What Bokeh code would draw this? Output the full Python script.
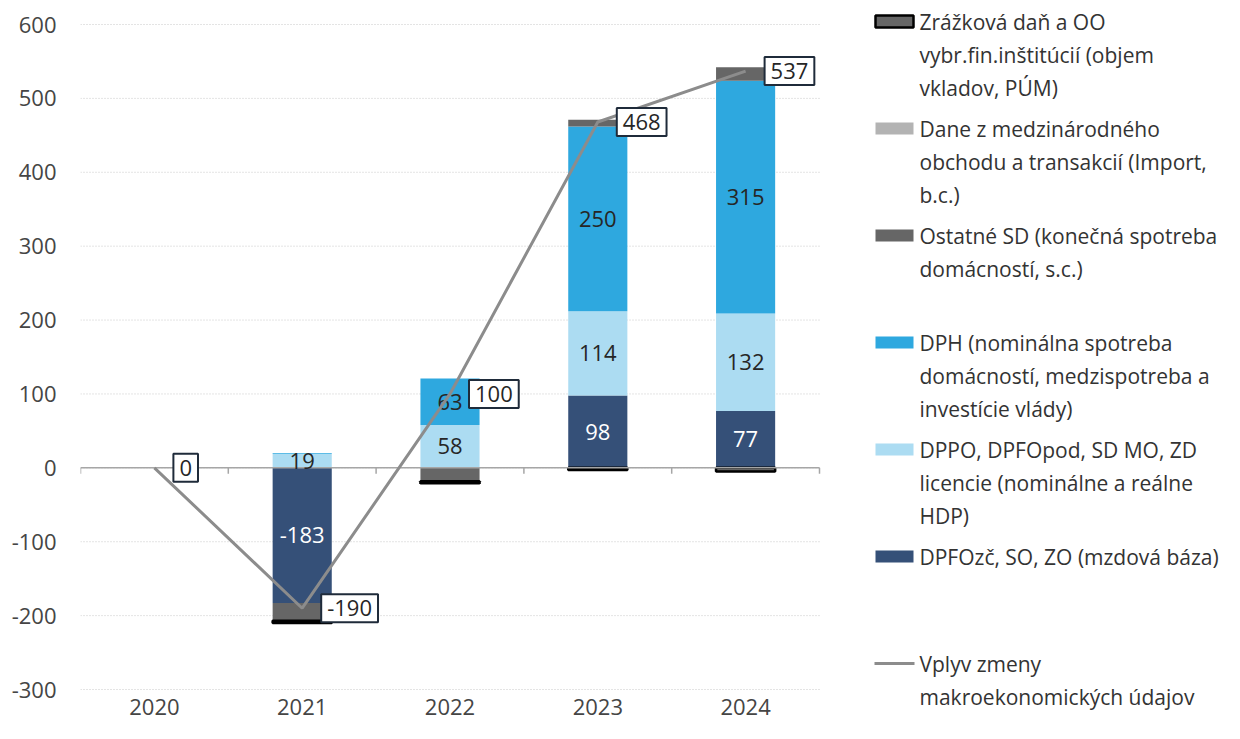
from bokeh.plotting import figure
from bokeh.models import Range1d, FixedTicker
from bokeh.core.properties import value
from bokeh.embed import file_html
from bokeh.resources import INLINE

# ---------------- data ----------------
years = ["2020", "2021", "2022", "2023", "2024"]
dpfo_zc = [0, -183, 0, 98, 77]          # DPFOzč, SO, ZO (mzdová báza)
dppo = [0, 19, 58, 114, 132]            # DPPO, DPFOpod, SD MO, ZD licencie
dph = [0, 1, 63, 250, 315]              # DPH
ostatne_sd = [0, -24, -18, 9, 18]       # Ostatné SD
dane_medz = [0, 0, 0, 0, 0]             # Dane z medzinárodného obchodu
zrazkova = [0, -3, -3, -3, -5]          # Zrážková daň a OO
vplyv = [0, -190, 100, 468, 537]        # Vplyv zmeny makroekonomických údajov
y_ticks = [-300, -200, -100, 0, 100, 200, 300, 400, 500, 600]

legend_items = [
    (["Zrážková daň a OO", "vybr.fin.inštitúcií (objem", "vkladov, PÚM)"], "#666666", "black", "box"),
    (["Dane z medzinárodného", "obchodu a transakcií (Import,", "b.c.)"], "#b3b3b3", None, "box"),
    (["Ostatné SD (konečná spotreba", "domácností, s.c.)"], "#666666", None, "box"),
    (["DPH (nominálna spotreba", "domácností, medzispotreba a", "investície vlády)"], "#2ea8df", None, "box"),
    (["DPPO, DPFOpod, SD MO, ZD", "licencie (nominálne a reálne", "HDP)"], "#acdcf2", None, "box"),
    (["DPFOzč, SO, ZO (mzdová báza)"], "#355078", None, "box"),
    (["Vplyv zmeny", "makroekonomických údajov"], "#8c8c8c", None, "line"),
]

FONT = "Open Sans"
TXT = "#454545"

series = [
    (dpfo_zc, "#355078", None, "white"),
    (dppo, "#acdcf2", None, "#262626"),
    (dph, "#2ea8df", None, "#262626"),
    (ostatne_sd, "#666666", None, None),
    (dane_medz, "#b3b3b3", None, None),
    (zrazkova, "#666666", "black", None),
]

n = len(years)
xs = list(range(n))

# layout geometry in figure-relative pixels
W, H = 1224, 723
FRAME_L, FRAME_R = 80, W
FRAME_T, FRAME_B = 0, H
CHART_R = 819                  # right end of the category area
Y_TOP_PX, Y_BOT_PX = 24, 689   # y of top / bottom tick
XLAB_PX = 706                  # y of category labels
ppu = (Y_BOT_PX - Y_TOP_PX) / (y_ticks[-1] - y_ticks[0])
y_hi = y_ticks[-1] + (Y_TOP_PX - FRAME_T) / ppu
y_lo = y_ticks[0] - (FRAME_B - Y_BOT_PX) / ppu
x_end = -0.5 + n * (FRAME_R - FRAME_L) / (CHART_R - FRAME_L)

p = figure(width=W, height=H, output_backend="svg", toolbar_location=None,
           x_range=Range1d(-0.5, x_end), y_range=Range1d(y_lo, y_hi),
           x_axis_location=None,
           min_border_left=FRAME_L, min_border_right=0,
           min_border_top=0, min_border_bottom=0)
p.extra_x_ranges = {"px": Range1d(FRAME_L, FRAME_R)}
p.extra_y_ranges = {"py": Range1d(FRAME_B, FRAME_T)}
p.outline_line_color = None
p.grid.visible = False

p.yaxis.ticker = FixedTicker(ticks=y_ticks)
p.yaxis.major_label_overrides = {t: str(t) for t in y_ticks}
p.yaxis.axis_line_color = None
p.yaxis.major_tick_line_color = None
p.yaxis.minor_tick_line_color = None
p.yaxis.major_label_standoff = 18
p.yaxis.major_label_text_font = FONT
p.yaxis.major_label_text_font_size = "22px"
p.yaxis.major_label_text_color = TXT

# gridlines limited to category area
p.segment(x0=[-0.5] * len(y_ticks), x1=[n - 0.5] * len(y_ticks), y0=y_ticks, y1=y_ticks,
          line_color="#c8c8c8", line_dash="1 2", line_width=1)

# stacked bars
pos = [0.0] * n
neg = [0.0] * n
label_x, label_y, label_t, label_c = [], [], [], []
for vals, color, outline, lcol in series:
    bx, bottoms, tops = [], [], []
    for i, v in enumerate(vals):
        if v >= 0:
            b, t = pos[i], pos[i] + v
            pos[i] = t
        else:
            b, t = neg[i], neg[i] + v
            neg[i] = t
        if v != 0:
            bx.append(i)
            bottoms.append(b)
            tops.append(t)
        if lcol is not None and abs(v) >= 10:
            label_x.append(i)
            label_y.append((b + t) / 2)
            label_t.append(str(v))
            label_c.append(lcol)
    if bx:
        p.vbar(x=bx, width=0.4, bottom=bottoms, top=tops, fill_color=color,
               line_color=outline if outline else None,
               line_width=2.5 if outline else 0)

# zero axis line with category separator ticks
p.segment(x0=[-0.5], x1=[n - 0.5], y0=[0], y1=[0], line_color="#a6a6a6", line_width=1.5)
bounds = [i - 0.5 for i in range(n + 1)]
p.segment(x0=bounds, x1=bounds, y0=[0] * len(bounds), y1=[-8] * len(bounds),
          line_color="#a6a6a6", line_width=1.5)

# category labels (below the bottom gridline)
p.text(x=xs, y=[y_ticks[0] - (XLAB_PX - Y_BOT_PX) / ppu] * n, text=years,
       text_color=TXT, text_font=value(FONT), text_font_size="22px",
       text_align="center", text_baseline="middle")

# segment labels
p.text(x=label_x, y=label_y, text=label_t, text_color=label_c,
       text_font=value(FONT), text_font_size="22px", text_align="center",
       text_baseline="middle")

# line + boxed labels
p.line(x=xs, y=vplyv, line_color="#8c8c8c", line_width=3)
p.text(x=xs, y=vplyv, text=[str(v) for v in vplyv], x_offset=19,
       text_color="#262626", text_font=value(FONT), text_font_size="22px",
       text_align="left", text_baseline="middle",
       background_fill_color="white", border_line_color="#1f2b3a",
       border_line_width=2, padding=6)

# ---------------- legend (pixel extra ranges) ----------------
y0, step, lh = 21, 107, 33
tx, ty, tt = [], [], []
for k, (lines, color, outline, kind) in enumerate(legend_items):
    yy = y0 + k * step
    if kind == "box":
        p.rect(x=[894], y=[yy], width=38, height=12, fill_color=color,
               line_color=outline if outline else None,
               line_width=2.5 if outline else 0,
               x_range_name="px", y_range_name="py")
    else:
        p.segment(x0=[874], x1=[914], y0=[yy], y1=[yy], line_color=color, line_width=3,
                  x_range_name="px", y_range_name="py")
    for j, ln in enumerate(lines):
        tx.append(919)
        ty.append(yy + j * lh)
        tt.append(ln)
p.text(x=tx, y=ty, text=tt, text_color="#333333", text_font=value(FONT),
       text_font_size="21px", text_align="left", text_baseline="middle",
       x_range_name="px", y_range_name="py")

open("out.html", "w").write(file_html(p, INLINE))
